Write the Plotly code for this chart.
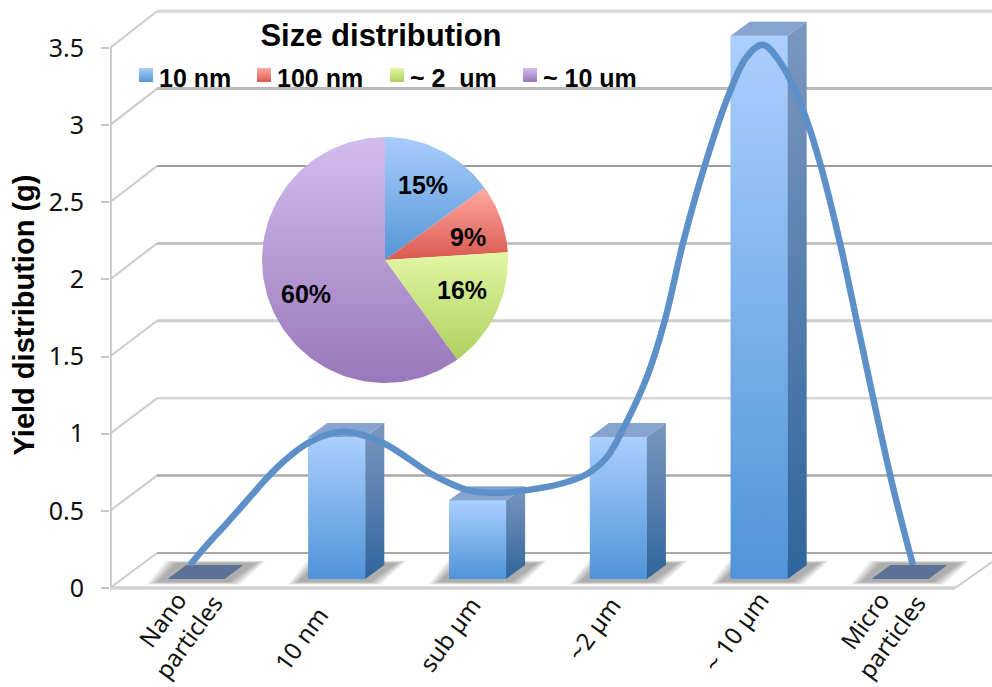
import math
import plotly.graph_objects as go

# Column chart values
categories = ["Nano<br>particles", "10 nm", "sub µm", "~2 µm", "~ 10 µm", "Micro<br>particles"]
yield_values = [0.0, 0.92, 0.51, 0.92, 3.52, 0.0]
y_ticks = [0, 0.5, 1, 1.5, 2, 2.5, 3, 3.5]
y_tick_labels = ["0", "0.5", "1", "1.5", "2", "2.5", "3", "3.5"]

# Hand-drawn trend curve over the columns
curve_x = [-0.043, 0.078, 0.227, 0.384, 0.49, 0.618, 0.81, 1.044, 1.328, 1.683, 1.925, 2.124,
           2.251, 2.493, 2.635, 2.777, 2.919, 3.033, 3.203, 3.331, 3.459, 3.615, 3.778, 3.913,
           4.027, 4.169, 4.311, 4.432, 4.574, 4.702, 4.943, 5.092]
curve_y = [0.149, 0.279, 0.428, 0.59, 0.70, 0.817, 0.947, 1.012, 0.94, 0.733, 0.636, 0.616,
           0.623, 0.655, 0.687, 0.739, 0.849, 1.03, 1.368, 1.738, 2.237, 2.743, 3.184, 3.444,
           3.521, 3.379, 3.098, 2.754, 2.236, 1.69, 0.681, 0.149]

# Inset pie
pie_labels = ["10 nm", "100 nm", "~ 2  um", "~ 10 um"]
pie_shares = [15, 9, 16, 60]
pie_tops = ["#a9cdfd", "#ffa9a3", "#e2f7a4", "#d2bdee"]
pie_bottoms = ["#5596d6", "#d9594f", "#afd05f", "#9977ba"]

# Plot geometry in page pixels
WIDTH, HEIGHT = 992, 687
LEFT, PLOT_BOTTOM, FLOOR = 110, 630, 588
X0, DX, DY = 196.0, 140.8, 154.3
LABEL_RISE = 23
# Rotated category labels: sideways nudge in pixels and trailing spacing that centres each text
label_nudge = [-7, 5, 9.4, 8.6, 12, -8]
label_padding = [3, 6, 4, 4, 3, 3]


def ax(px):
    return (px - X0) / DX


def ay(py):
    return (FLOOR - py) / DY


def lx(width):
    return width / DX


def ly(height):
    return height / DY


x_range = [ax(LEFT), ax(WIDTH)]
y_range = [ay(PLOT_BOTTOM), ay(0)]

tick_positions = [i + lx(n) for i, n in enumerate(label_nudge)]
tick_texts = []
for text, pad in zip(categories, label_padding):
    head, sep, tail = text.partition("<br>")
    tick_texts.append(head + "\u00a0" * pad + sep + tail)

WALL_DX, WALL_DY = 47, 35
BAR_W, BAR_LIFT = 57, 9
DEPTH_X, DEPTH_Y = 19, 14
FRONT_FACE = [[0, "#4f94d9"], [1, "#abcffe"]]
SIDE_FACE = [[0, "#2f659c"], [1, "#7b97bf"]]
TOP_FACE = "#86a4cf"

fig = go.Figure()


def polygon(xs, ys, **kw):
    fig.add_trace(go.Scatter(x=xs, y=ys, mode="lines", fill="toself", line=dict(width=0),
                             cliponaxis=False, hoverinfo="skip", showlegend=False, **kw))


def rule(xs, ys, color, width):
    fig.add_trace(go.Scatter(x=xs, y=ys, mode="lines", line=dict(color=color, width=width),
                             cliponaxis=False, hoverinfo="skip", showlegend=False))


# Real columns from the axis scale
base = ly(BAR_LIFT)
fig.add_trace(go.Bar(x=list(range(len(categories))), y=yield_values, base=base, width=lx(BAR_W),
                     marker=dict(color="#7db0ec", line=dict(width=0)), cliponaxis=False,
                     hoverinfo="skip", showlegend=False))

# Back wall, left wall and floor; the back wall sits a touch taller in perspective
wall_styles = {0: ("#a9a9a9", 2), 0.5: ("#a9a9a9", 2.5), 1: ("#d4d4d4", 2.5), 1.5: ("#cfcfcf", 3),
               2: ("#b8b8b8", 2.5), 2.5: ("#9c9c9c", 2), 3: ("#b9b9b9", 3), 3.5: ("#d9d9d9", 3.5)}
for tick in y_ticks:
    color, width = wall_styles[tick]
    back = tick + ly(WALL_DY + tick * 0.5)
    rule([ax(LEFT), ax(LEFT + WALL_DX)], [tick, back], "#cbcbcb", 2)
    rule([ax(LEFT + WALL_DX), ax(WIDTH)], [back, back], color, width)
rule([ax(955), ax(WIDTH)], [0, ly(WALL_DY * 26 / 35)], "#cbcbcb", 2)
rule([ax(LEFT), ax(LEFT)], [0, 3.5], "#c4c4c4", 3.5)
rule([ax(LEFT), ax(955)], [0, 0], "#d2d2d2", 3.5)

# Soft floor shadow beneath every column, built up in thin layers
for i in range(len(categories)):
    cx = X0 + DX * i
    for grow in [10, 8.5, 7, 5.5, 4, 2.5, 1, 0]:
        y0 = 6 - grow / 4
        y1 = 25 + grow / 4
        polygon([ax(cx - 39 - grow), ax(cx + 34 + grow), ax(cx + 60 + grow), ax(cx - 20 - grow),
                 ax(cx - 39 - grow)],
                [ly(y0), ly(y0), ly(y1), ly(y1), ly(y0)],
                fillcolor="rgba(50,50,50,0.06)")

# Shaded column faces built from the same values
for i, value in enumerate(yield_values):
    x0 = i - lx(BAR_W) / 2
    x1 = i + lx(BAR_W) / 2
    top = base + value
    dx, dy = lx(DEPTH_X), ly(DEPTH_Y)
    if value > 0:
        polygon([x0, x1, x1, x0, x0], [base, base, top, top, base],
                fillgradient=dict(type="vertical", colorscale=FRONT_FACE))
        polygon([x1, x1 + dx, x1 + dx, x1, x1], [base, base + dy, top + dy, top, base],
                fillgradient=dict(type="vertical", colorscale=SIDE_FACE))
    polygon([x0, x1, x1 + dx, x0 + dx, x0], [top, top, top + dy, top + dy, top],
            fillcolor=TOP_FACE if value > 0 else "#5b7296")

# Trend curve
fig.add_trace(go.Scatter(x=curve_x, y=curve_y, mode="lines", cliponaxis=False,
                         line=dict(color="#5d90c8", width=6.5, shape="spline", smoothing=1.0),
                         hoverinfo="skip", showlegend=False))

# Gradient slices of the inset pie, clockwise from twelve o'clock
PIE_CX, PIE_CY, PIE_R = 385, 260, 123
start = 0.0
total = sum(pie_shares)
for share, c_top, c_bottom in zip(pie_shares, pie_tops, pie_bottoms):
    steps = max(4, int(share * 2))
    angles = [2 * math.pi * (start + share * k / steps) / total for k in range(steps + 1)]
    xs = [ax(PIE_CX)] + [ax(PIE_CX + PIE_R * math.sin(a)) for a in angles] + [ax(PIE_CX)]
    ys = [ay(PIE_CY)] + [ay(PIE_CY - PIE_R * math.cos(a)) for a in angles] + [ay(PIE_CY)]
    polygon(xs, ys, fillgradient=dict(type="vertical", colorscale=[[0, c_bottom], [1, c_top]]))
    start += share

# Pie trace over the slices keeps the shares in one mark
plot_w = WIDTH - LEFT
plot_h = PLOT_BOTTOM
fig.add_trace(go.Pie(
    labels=pie_labels, values=pie_shares, sort=False, direction="clockwise", rotation=0,
    marker=dict(colors=["rgba(0,0,0,0)"] * 4, line=dict(width=0)), textinfo="none",
    domain=dict(x=[(PIE_CX - PIE_R - LEFT) / plot_w, (PIE_CX + PIE_R - LEFT) / plot_w],
                y=[(PLOT_BOTTOM - PIE_CY - PIE_R) / plot_h, (PLOT_BOTTOM - PIE_CY + PIE_R) / plot_h]),
    showlegend=False))

# Percentage labels placed on the slices
label_px = [(423, 185), (468, 237), (462, 290), (306, 294)]
annotations = [
    dict(x=ax(px), y=ay(py), xref="x", yref="y", text=f"<b>{share}%</b>", showarrow=False,
         xanchor="center", yanchor="middle",
         font=dict(family="Liberation Sans", size=25, color="black"))
    for (px, py), share in zip(label_px, pie_shares)
]

# Pie key above the slices
key_x = [146, 264, 397, 530]
for px, name, c_top, c_bottom in zip(key_x, pie_labels, pie_tops, pie_bottoms):
    fig.add_trace(go.Scatter(
        x=[ax(px)], y=[ay(75)], mode="markers",
        marker=dict(symbol="square", size=14, color=c_top, line=dict(width=0),
                    gradient=dict(type="vertical", color=c_bottom)),
        cliponaxis=False, hoverinfo="skip", showlegend=False))
    annotations.append(dict(x=ax(px + 11), y=ay(78), xref="x", yref="y", text=f"<b>{name}</b>",
                            showarrow=False, xanchor="left", yanchor="middle",
                            font=dict(family="Liberation Sans", size=25, color="black")))

fig.update_layout(
    width=WIDTH, height=HEIGHT, margin=dict(l=LEFT, r=0, t=0, b=HEIGHT - PLOT_BOTTOM, autoexpand=False),
    paper_bgcolor="white", plot_bgcolor="white", showlegend=False, annotations=annotations,
    title=dict(text="<b>Size distribution</b>", x=381 / WIDTH, xanchor="center", xref="container",
               y=1 - 35 / HEIGHT, yanchor="middle", yref="container",
               font=dict(family="Liberation Sans", size=31, color="black")),
    font=dict(family="Noto Sans", color="#111111"),
    xaxis=dict(range=x_range, tickvals=tick_positions, ticktext=tick_texts,
               tickangle=-54, ticks="", showgrid=False, zeroline=False, showline=False,
               automargin=False, anchor="free",
               position=(PLOT_BOTTOM - FLOOR + LABEL_RISE) / PLOT_BOTTOM,
               tickfont=dict(family="Noto Sans", size=24, color="#111111")),
    yaxis=dict(range=y_range, tickvals=y_ticks, ticktext=y_tick_labels, ticks="outside", ticklen=8,
               tickwidth=2, tickcolor="#c4c4c4", showgrid=False, zeroline=False, showline=False,
               automargin=False, ticklabelstandoff=12,
               tickfont=dict(family="Noto Sans", size=25, color="#111111"),
               title=dict(text="<b>Yield distribution (g)</b>", standoff=5,
                          font=dict(family="Liberation Sans", size=29, color="black"))),
)

fig.write_html("out.html")
